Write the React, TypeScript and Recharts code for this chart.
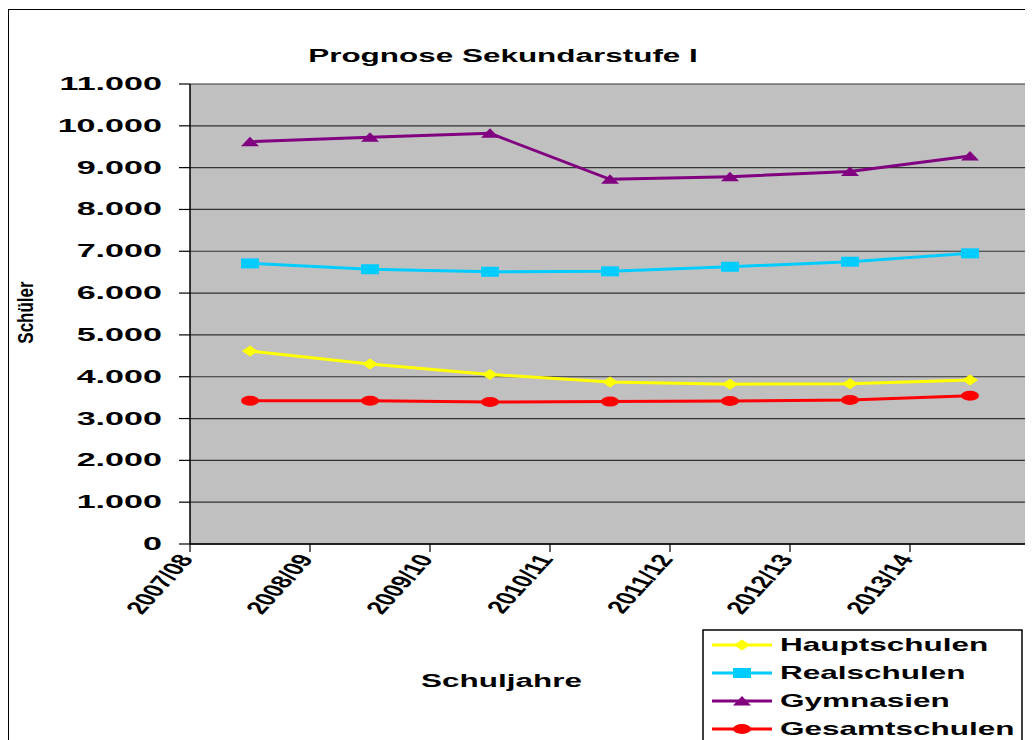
import { LineChart, Line, XAxis, YAxis, CartesianGrid } from 'recharts';

const years = ['2007/08', '2008/09', '2009/10', '2010/11', '2011/12', '2012/13', '2013/14'];
const hauptschulen = [4615, 4305, 4055, 3875, 3820, 3835, 3920];
const realschulen = [6710, 6570, 6510, 6520, 6630, 6750, 6950];
const gymnasien = [9620, 9725, 9820, 8720, 8785, 8905, 9280];
const gesamtschulen = [3425, 3425, 3395, 3405, 3420, 3445, 3545];
const yTicks = [0, 1000, 2000, 3000, 4000, 5000, 6000, 7000, 8000, 9000, 10000, 11000];

const data = years.map((year, i) => ({
  year,
  hauptschulen: hauptschulen[i],
  realschulen: realschulen[i],
  gymnasien: gymnasien[i],
  gesamtschulen: gesamtschulen[i],
}));

const FONT = '"Liberation Sans", Arial, sans-serif';
const W = 1100;
const H = 800;
const MARGIN = { top: 76, right: 78, left: 62, bottom: 184 };
const Y_AXIS_W = 120;
const PLOT_W = W - MARGIN.left - MARGIN.right - Y_AXIS_W;
const HALF_BAND = PLOT_W / years.length / 2;

type MarkerKind = 'diamond' | 'square' | 'triangle' | 'circle';

const series: { key: string; name: string; color: string; marker: MarkerKind }[] = [
  { key: 'hauptschulen', name: 'Hauptschulen', color: '#FFFF00', marker: 'diamond' },
  { key: 'realschulen', name: 'Realschulen', color: '#00CCFF', marker: 'square' },
  { key: 'gymnasien', name: 'Gymnasien', color: '#800080', marker: 'triangle' },
  { key: 'gesamtschulen', name: 'Gesamtschulen', color: '#FF0000', marker: 'circle' },
];

function Marker({ kind, cx, cy, color }: { kind: MarkerKind; cx: number; cy: number; color: string }) {
  if (kind === 'diamond')
    return <polygon points={`${cx - 8},${cy} ${cx},${cy - 5.5} ${cx + 8},${cy} ${cx},${cy + 5.5}`} fill={color} />;
  if (kind === 'square') return <rect x={cx - 9} y={cy - 5} width={18} height={10} fill={color} />;
  if (kind === 'triangle')
    return <polygon points={`${cx - 9},${cy + 4.5} ${cx},${cy - 5} ${cx + 9},${cy + 4.5}`} fill={color} />;
  return <ellipse cx={cx} cy={cy} rx={9} ry={5} fill={color} />;
}

const makeDot = (kind: MarkerKind, color: string) => (props: any) => {
  const { cx, cy, index } = props;
  if (cx == null || cy == null) return <g key={index} />;
  return (
    <g key={`${kind}-${index}`}>
      <Marker kind={kind} cx={cx} cy={cy} color={color} />
    </g>
  );
};

const fmt = (v: number) => v.toString().replace(/\B(?=(\d{3})+(?!\d))/g, '.');

function ValueTick({ x, y, payload }: any) {
  return (
    <text
      transform={`translate(${x},${y + 6}) scale(1.95,1)`}
      textAnchor="end"
      fontFamily={FONT}
      fontWeight="bold"
      fontSize={17.5}
      fill="#000"
    >
      {fmt(payload.value)}
    </text>
  );
}

function YearTick({ x, y, payload }: any) {
  const bx = x - HALF_BAND;
  return (
    <g>
      <line x1={bx} y1={y - 8} x2={bx} y2={y} stroke="#000" strokeWidth={1.2} />
      <text
        transform={`translate(${bx + 4},${y + 7}) scale(1.6,1) rotate(-60)`}
        textAnchor="end"
        fontFamily={FONT}
        fontWeight="bold"
        fontSize={18}
        fill="#000"
      >
        {payload.value}
      </text>
    </g>
  );
}

export default function App() {
  return (
    <div style={{ position: 'relative', width: 1025, height: 732, overflow: 'hidden' }}>
      <div
        style={{
          position: 'absolute',
          left: 0,
          top: 1,
          width: W,
          height: H,
          borderTop: '1px solid #000',
          borderLeft: '1px solid #000',
        }}
      />
      <div style={{ position: 'absolute', left: 0, top: 0 }}>
        <LineChart width={W} height={H} data={data} margin={MARGIN}>
          <CartesianGrid vertical={false} fill="#C0C0C0" stroke="#333" strokeWidth={1.2} />
          <XAxis
            dataKey="year"
            interval={0}
            padding={{ left: HALF_BAND, right: HALF_BAND }}
            tickSize={8}
            tickMargin={0}
            tickLine={false}
            axisLine={{ stroke: '#000', strokeWidth: 1.5 }}
            tick={<YearTick />}
            height={80}
          />
          <XAxis
            xAxisId="top"
            orientation="top"
            dataKey="year"
            height={0}
            tick={false}
            tickLine={false}
            axisLine={{ stroke: '#808080', strokeWidth: 1.5 }}
          />
          <YAxis
            domain={[0, 11000]}
            ticks={yTicks}
            interval={0}
            width={Y_AXIS_W}
            tickSize={11}
            tickMargin={17}
            tickLine={{ stroke: '#000', strokeWidth: 1.2 }}
            axisLine={{ stroke: '#000', strokeWidth: 1.5 }}
            tick={<ValueTick />}
          />
          <YAxis
            yAxisId="right"
            orientation="right"
            domain={[0, 11000]}
            width={0}
            tick={false}
            tickLine={false}
            axisLine={{ stroke: '#808080', strokeWidth: 1.5 }}
          />
          {series.map((s) => (
            <Line
              key={s.key}
              dataKey={s.key}
              name={s.name}
              stroke={s.color}
              strokeWidth={3}
              dot={makeDot(s.marker, s.color)}
              activeDot={false}
              isAnimationActive={false}
            />
          ))}
        </LineChart>
      </div>
      <svg
        width={W}
        height={H}
        style={{ position: 'absolute', left: 0, top: 0, pointerEvents: 'none' }}
      >
        <text
          transform="translate(495,54) scale(1.7,1)"
          textAnchor="middle"
          fontFamily={FONT}
          fontWeight="bold"
          fontSize={18.5}
        >
          Prognose Sekundarstufe I
        </text>
        <text
          transform="translate(493.5,679) scale(1.7,1)"
          textAnchor="middle"
          fontFamily={FONT}
          fontWeight="bold"
          fontSize={18.5}
        >
          Schuljahre
        </text>
        <text
          transform="translate(25,304.5) scale(1.25,1) rotate(-90)"
          textAnchor="middle"
          fontFamily={FONT}
          fontWeight="bold"
          fontSize={17}
        >
          Schüler
        </text>
        <rect x={695} y={622} width={319} height={200} fill="#fff" stroke="#000" strokeWidth={1.5} />
        {series.map((s, i) => {
          const cy = 637 + i * 28;
          return (
            <g key={s.key}>
              <line x1={704} y1={cy} x2={764} y2={cy} stroke={s.color} strokeWidth={3} />
              <Marker kind={s.marker} cx={734} cy={cy} color={s.color} />
              <text
                transform={`translate(772,${cy + 6}) scale(1.8,1)`}
                fontFamily={FONT}
                fontWeight="bold"
                fontSize={17.5}
              >
                {s.name}
              </text>
            </g>
          );
        })}
      </svg>
    </div>
  );
}
